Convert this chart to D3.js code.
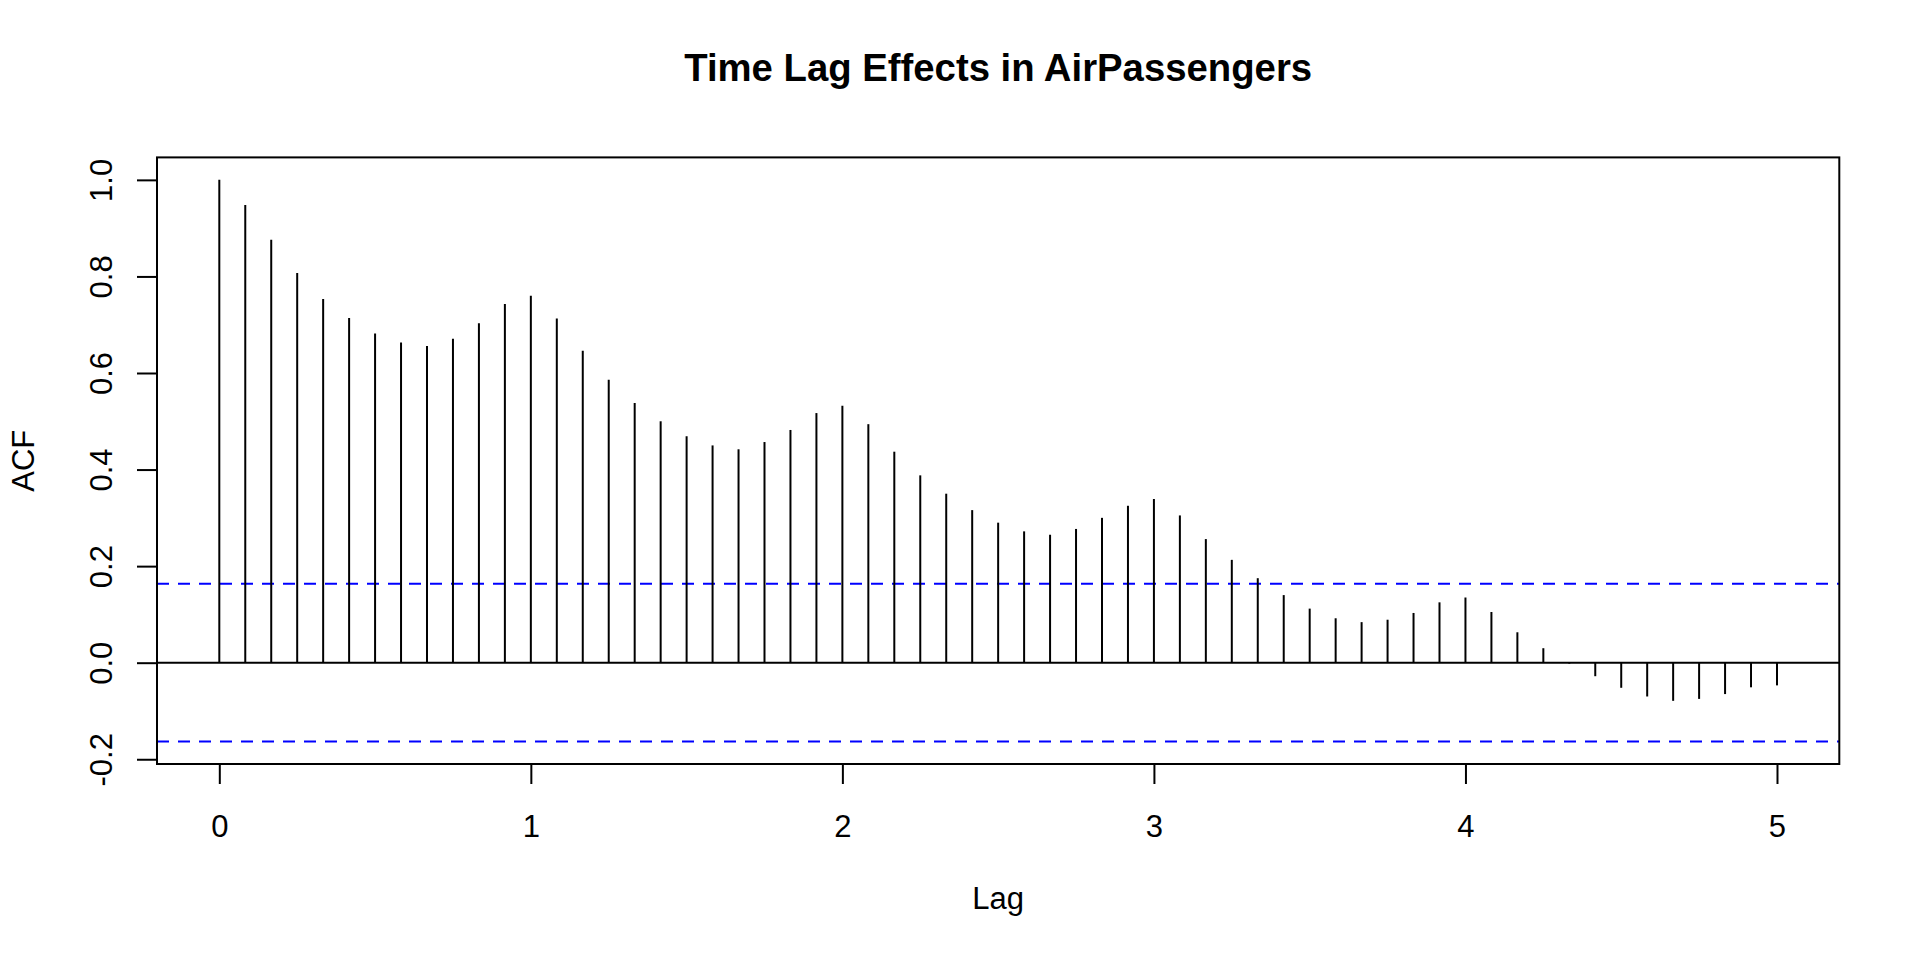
<!DOCTYPE html>
<html>
<head>
<meta charset="utf-8">
<script src="https://cdn.jsdelivr.net/npm/d3@7"></script>
<style>
  body { margin: 0; background: #fff; }
  text { font-family: "Liberation Sans", Arial, Helvetica, sans-serif; fill: #000; }
</style>
</head>
<body>
<svg id="chart"></svg>
<script>
// lag in months (plotted as years = months / 12)
const LAG_MONTHS = [
  0, 1, 2, 3, 4, 5, 6, 7, 8, 9, 10, 11,
  12, 13, 14, 15, 16, 17, 18, 19, 20, 21, 22, 23,
  24, 25, 26, 27, 28, 29, 30, 31, 32, 33, 34, 35,
  36, 37, 38, 39, 40, 41, 42, 43, 44, 45, 46, 47,
  48, 49, 50, 51, 52, 53, 54, 55, 56, 57, 58, 59,
  60,
];
const ACF_VALUES = [
  1.0, 0.948, 0.876, 0.807, 0.753, 0.714, 0.682, 0.663, 0.656, 0.671, 0.703, 0.743,
  0.760, 0.713, 0.646, 0.586, 0.538, 0.500, 0.469, 0.450, 0.442, 0.457, 0.482, 0.517,
  0.532, 0.494, 0.437, 0.388, 0.350, 0.316, 0.290, 0.272, 0.265, 0.277, 0.300, 0.325,
  0.339, 0.305, 0.256, 0.213, 0.175, 0.140, 0.112, 0.092, 0.084, 0.089, 0.103, 0.125,
  0.135, 0.105, 0.063, 0.030, -0.002, -0.028, -0.052, -0.070, -0.079, -0.075, -0.065, -0.051,
  -0.047,
];
const CI = 0.1633; // 1.96 / sqrt(144)
const X_TICKS = [0, 12, 24, 36, 48, 60];
const X_TICK_LABELS = ["0", "1", "2", "3", "4", "5"];
const Y_TICKS = [-0.2, 0.0, 0.2, 0.4, 0.6, 0.8, 1.0];
const Y_TICK_LABELS = ["-0.2", "0.0", "0.2", "0.4", "0.6", "0.8", "1.0"];

const width = 1920;
const height = 960;
const margin = { top: 157.4, right: 80.7, bottom: 196, left: 157 };
const fontSize = 31;
const titleSize = 38.3;

const svg = d3.select("#chart").attr("width", width).attr("height", height);

const x0 = margin.left;
const x1 = width - margin.right;
const y0 = margin.top;
const y1 = height - margin.bottom;

// R style: extend data range by 4% on each side
const yLo = d3.min([d3.min(ACF_VALUES), -CI]);
const yHi = d3.max([d3.max(ACF_VALUES), CI]);
const yPad = (yHi - yLo) * 0.04;
const xLo = d3.min(LAG_MONTHS);
const xHi = d3.max(LAG_MONTHS);
const xPad = (xHi - xLo) * 0.04;

const xscale = d3.scaleLinear().domain([xLo - xPad, xHi + xPad]).range([x0, x1]);
const yscale = d3.scaleLinear().domain([yLo - yPad, yHi + yPad]).range([y1, y0]);

const plot = svg.append("g");

// zero line
plot.append("line")
  .attr("x1", x0).attr("x2", x1)
  .attr("y1", yscale(0)).attr("y2", yscale(0))
  .attr("stroke", "#000").attr("stroke-width", 2);

// confidence bounds
[CI, -CI].forEach((c) => {
  plot.append("line")
    .attr("x1", x0).attr("x2", x1)
    .attr("y1", yscale(c)).attr("y2", yscale(c))
    .attr("stroke", "#0000ff").attr("stroke-width", 2)
    .attr("stroke-dasharray", "12,9");
});

// spikes
plot.selectAll(".spike")
  .data(LAG_MONTHS.map((m, i) => ({ m: m, v: ACF_VALUES[i] })))
  .join("line")
  .attr("class", "spike")
  .attr("x1", (d) => xscale(d.m)).attr("x2", (d) => xscale(d.m))
  .attr("y1", yscale(0)).attr("y2", (d) => yscale(d.v))
  .attr("stroke", "#000").attr("stroke-width", 2);

// axes
const xaxis = d3.axisBottom(xscale)
  .tickValues(X_TICKS)
  .tickSize(20)
  .tickSizeOuter(0)
  .tickFormat((d, i) => X_TICK_LABELS[i]);
const xaxisGroup = svg.append("g")
  .attr("transform", `translate(0, ${y1})`)
  .call(xaxis);
xaxisGroup.select(".domain")
  .attr("d", `M${xscale(X_TICKS[0])},0H${xscale(X_TICKS[X_TICKS.length - 1])}`);
xaxisGroup.selectAll("line").attr("stroke-width", 2);
xaxisGroup.selectAll("path").attr("stroke-width", 2);
xaxisGroup.selectAll("text")
  .attr("y", 836.5 - y1)
  .attr("dy", null)
  .style("font-size", fontSize + "px")
  .style("font-family", '"Liberation Sans", Arial, sans-serif');

const yaxis = d3.axisLeft(yscale)
  .tickValues(Y_TICKS)
  .tickSize(20)
  .tickSizeOuter(0)
  .tickFormat((d, i) => Y_TICK_LABELS[i]);
const yaxisGroup = svg.append("g")
  .attr("transform", `translate(${x0}, 0)`)
  .call(yaxis);
yaxisGroup.select(".domain")
  .attr("d", `M0,${yscale(Y_TICKS[0])}V${yscale(Y_TICKS[Y_TICKS.length - 1])}`);
yaxisGroup.selectAll("line").attr("stroke-width", 2);
yaxisGroup.selectAll("path").attr("stroke-width", 2);
yaxisGroup.selectAll("text")
  .attr("x", 0)
  .attr("y", 0)
  .attr("dy", null)
  .attr("text-anchor", "middle")
  .attr("transform", `translate(${111.6 - x0}, 0) rotate(-90)`)
  .style("font-size", fontSize + "px")
  .style("font-family", '"Liberation Sans", Arial, sans-serif');

// box
svg.append("rect")
  .attr("x", x0).attr("y", y0)
  .attr("width", x1 - x0).attr("height", y1 - y0)
  .attr("fill", "none")
  .attr("stroke", "#000").attr("stroke-width", 2);

// title and labels
svg.append("text")
  .attr("x", (x0 + x1) / 2)
  .attr("y", 80.7)
  .attr("text-anchor", "middle")
  .style("font-size", titleSize + "px")
  .style("font-weight", "bold")
  .text("Time Lag Effects in AirPassengers");

svg.append("text")
  .attr("x", (x0 + x1) / 2)
  .attr("y", 909.3)
  .attr("text-anchor", "middle")
  .style("font-size", fontSize + "px")
  .text("Lag");

svg.append("text")
  .attr("transform", `translate(33.6, ${(y0 + y1) / 2}) rotate(-90)`)
  .attr("text-anchor", "middle")
  .style("font-size", fontSize + "px")
  .text("ACF");
</script>
</body>
</html>
